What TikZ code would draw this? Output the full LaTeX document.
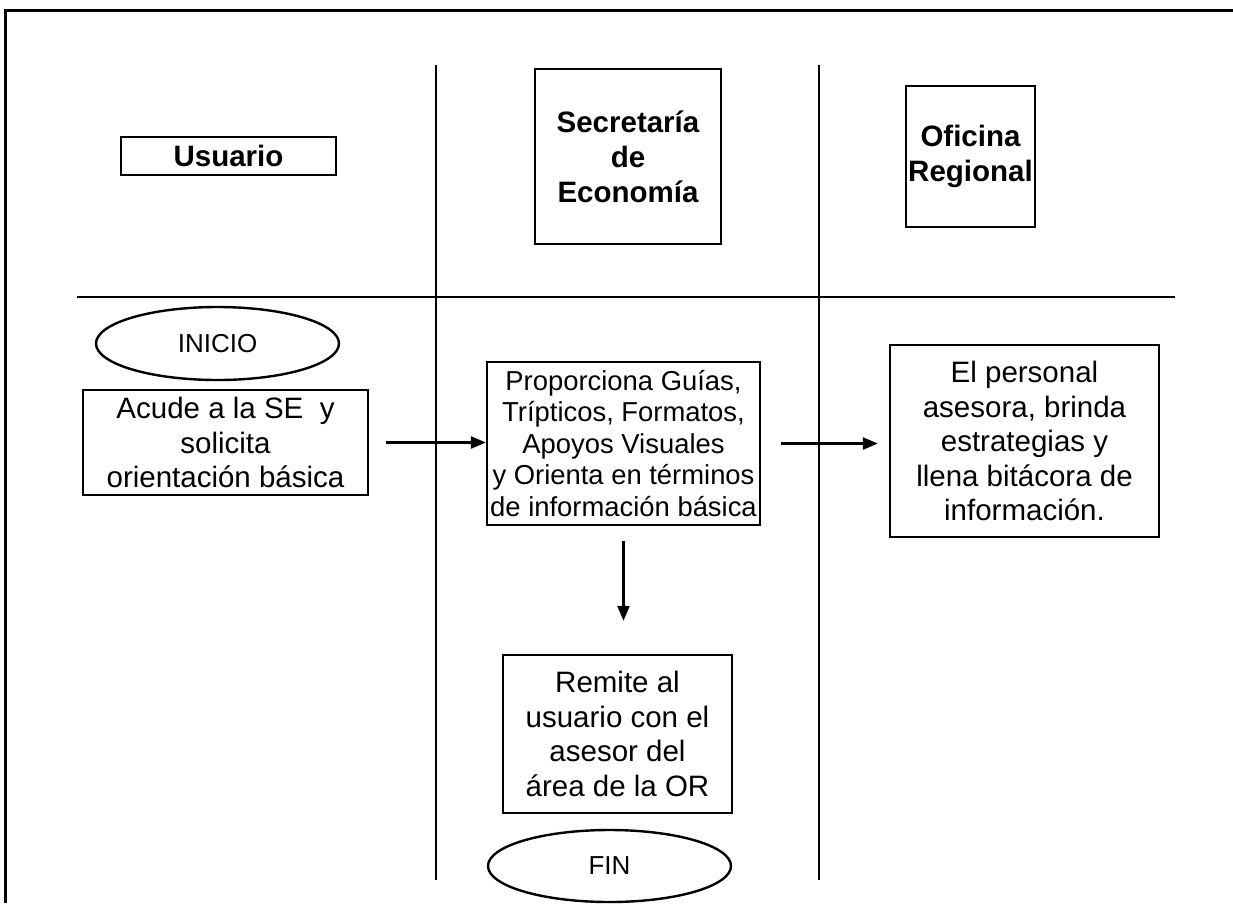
\documentclass[tikz,border=0pt]{standalone}
\usepackage{fontspec}
\setmainfont{Liberation Sans}
\usetikzlibrary{arrows.meta,shapes.geometric}

\begin{document}
\begin{tikzpicture}[x=1pt,y=-1pt,
  lane/.style={line width=2pt},
  caja/.style={draw,line width=2.4pt,rectangle,align=center,inner sep=0pt,font=\fontsize{29.5}{34.5}\selectfont},
  titulo/.style={caja,font=\bfseries\fontsize{29.5}{35}\selectfont},
  terminal/.style={draw,line width=2.4pt,ellipse,inner sep=0pt,font=\fontsize{26}{30}\selectfont},
  flecha/.style={line width=2.6pt,-{Triangle[length=15pt,width=12pt]}}]
\useasboundingbox (0,0) rectangle (1233,903);
\draw[line width=3pt] (5,903) -- (5,10) -- (1233,10);
\foreach \x in {436,819} {
   \draw[lane] (\x,65) -- (\x,880);
}
\draw[lane] (77,297) -- (1175,297);
\node[titulo,minimum width=215pt,minimum height=38pt] (usuario) at (228.5,156) {Usuario};
\node[titulo,minimum width=186pt,minimum height=175pt] (se) at (628,156.5) {Secretaría\\de\\Economía};
\node[titulo,minimum width=129pt,minimum height=141pt] (or) at (970.5,156.5) {Oficina\\Regional};
\node[terminal,minimum width=243pt,minimum height=73pt] (inicio) at (217.5,343.5) {INICIO};
\node[caja,minimum width=285pt,minimum height=105pt] (acude) at (225.5,442.5)
   {Acude a la SE\ \ y\\solicita\\orientación básica};
\node[caja,minimum width=273pt,minimum height=163pt,font=\fontsize{27.4}{31.5}\selectfont] (proporciona) at (623.5,443.5)
   {Proporciona Guías,\\Trípticos, Formatos,\\Apoyos Visuales\\y Orienta en términos\\de información básica};
\node[caja,minimum width=269pt,minimum height=192pt] (personal) at (1024.5,441)
   {El personal\\asesora, brinda\\estrategias y\\llena bitácora de\\información.};
\node[caja,minimum width=229pt,minimum height=158pt] (remite) at (617.5,734)
   {Remite al\\usuario con el\\asesor del\\área de la OR};
\node[terminal,minimum width=243pt,minimum height=72pt] (fin) at (609.5,866) {FIN};
\draw[flecha,shorten <=17pt] (acude.east) -- (acude.east -| proporciona.west);
\draw[flecha,shorten <=20pt,shorten >=11pt] (proporciona.east) -- (proporciona.east -| personal.west);
\draw[flecha,shorten <=15pt,shorten >=33pt] (proporciona.south) -- (proporciona.south |- remite.north);
\end{tikzpicture}
\end{document}
